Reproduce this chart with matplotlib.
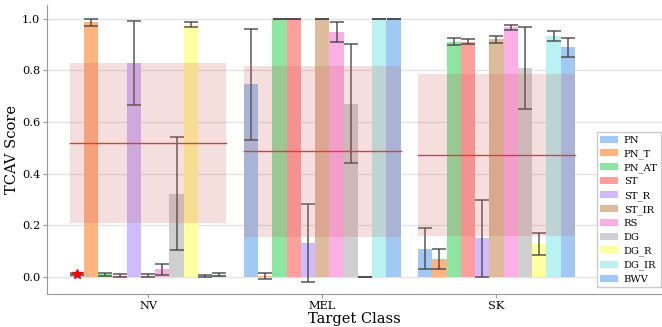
import numpy as np
from matplotlib import pyplot as plt

plt.rcParams["font.family"] = "DejaVu Serif"

classes = ["NV", "MEL", "SK"]
concepts = ["PN", "PN_T", "PN_AT", "ST", "ST_R", "ST_IR", "RS", "DG", "DG_R", "DG_IR", "BWV"]
colors = ["#a1c9f4", "#ffb482", "#8de5a1", "#ff9f9b", "#d0bbff", "#debb9b",
          "#fab0e4", "#cfcfcf", "#fffea3", "#b9f2f0", "#a1c9f4"]

# mean tcav score per concept, one row per target class
scores = [
    [0.010, 0.986, 0.010, 0.005, 0.830, 0.005, 0.030, 0.322, 0.978, 0.003, 0.008],
    [0.747, 0.004, 1.000, 1.000, 0.132, 1.000, 0.948, 0.671, 0.000, 1.000, 1.000],
    [0.109, 0.070, 0.911, 0.912, 0.149, 0.921, 0.968, 0.809, 0.128, 0.934, 0.889],
]
errors = [
    [0.004, 0.015, 0.005, 0.005, 0.163, 0.005, 0.022, 0.219, 0.008, 0.003, 0.006],
    [0.215, 0.013, 0.000, 0.001, 0.150, 0.000, 0.038, 0.230, 0.000, 0.000, 0.000],
    [0.079, 0.040, 0.013, 0.010, 0.151, 0.013, 0.010, 0.159, 0.042, 0.018, 0.038],
]

# random concept baseline (mean, std) per target class
random_mean = [0.519, 0.487, 0.474]
random_std = [0.309, 0.332, 0.314]

# significance star
star_class, star_concept = "NV", "PN"

fig = plt.figure(figsize=(6.62, 3.27), dpi=100)
ax = fig.add_axes([0.071, 0.101, 0.929, 0.884])

width = 0.9
bw = width / len(concepts)
x = np.arange(len(classes))

for j, c in enumerate(concepts):
    pos = x + (j - (len(concepts) - 1) / 2) * bw
    vals = [scores[i][j] for i in range(len(classes))]
    errs = [errors[i][j] for i in range(len(classes))]
    ax.bar(pos, vals, bw, color=colors[j], label=c, zorder=2)
    ax.errorbar(pos, vals, yerr=errs, fmt="none", ecolor="0.25", elinewidth=1.2,
                capsize=5, capthick=1.2, alpha=0.8, zorder=3)

for i in range(len(classes)):
    lo, hi = x[i] - width / 2, x[i] + width / 2
    ax.fill_between([lo, hi], random_mean[i] - random_std[i], random_mean[i] + random_std[i],
                    color="indianred", alpha=0.2, lw=0, zorder=4)
    ax.plot([lo, hi], [random_mean[i]] * 2, color="#e8383a", lw=1, zorder=5)

si = classes.index(star_class)
sj = concepts.index(star_concept)
ax.plot(x[si] + (sj - (len(concepts) - 1) / 2) * bw, scores[si][sj], marker="*",
        color="red", ms=7, ls="none", zorder=6)

ax.set_xlim(-0.58, 2.95)
ax.set_ylim(-0.066, 1.054)
ax.set_xticks(x)
ax.set_xticklabels(classes, fontsize=8.2)
ax.set_yticks(np.arange(0, 1.01, 0.2))
ax.set_yticklabels(["%.1f" % v for v in np.arange(0, 1.01, 0.2)], fontsize=8.2)
ax.tick_params(length=3, color="0.6", pad=2)
ax.yaxis.grid(True, color="#e3e3e3", lw=1, zorder=0)
ax.set_axisbelow(True)
for s in ["top", "right"]:
    ax.spines[s].set_visible(False)
for s in ["left", "bottom"]:
    ax.spines[s].set_color("0.6")

ax.set_xlabel("Target Class", fontsize=10.5, labelpad=1)
ax.set_ylabel("TCAV Score", fontsize=10.5, labelpad=2)

ax.legend(loc="upper left", bbox_to_anchor=(0.894, 0.56), borderaxespad=0,
          fontsize=7.2, labelspacing=0.45, handlelength=1.75, handletextpad=0.6,
          borderpad=0.35, fancybox=False, edgecolor="0.8", framealpha=1)

fig.savefig("out.png", dpi=100)
